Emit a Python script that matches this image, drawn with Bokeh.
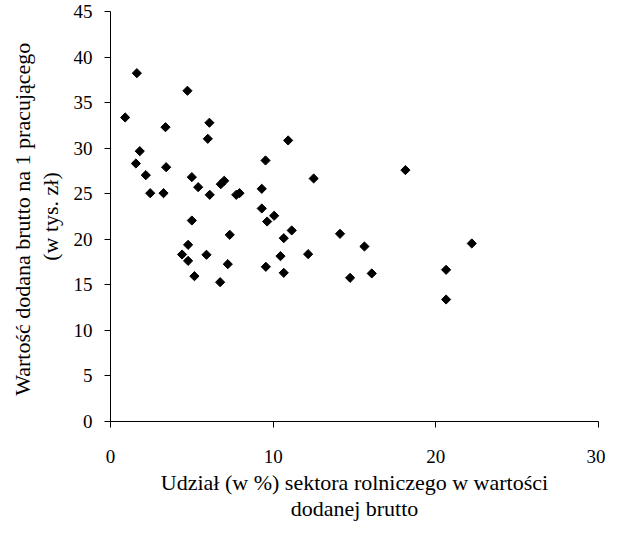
import numpy as np
from bokeh.plotting import figure
from bokeh.models import Range1d, FixedTicker
from bokeh.embed import file_html
from bokeh.resources import INLINE

# Udział (w %) sektora rolniczego w wartości dodanej brutto
share_pct = [1.62, 4.73, 0.90, 3.38, 6.08, 5.98, 10.92, 1.80, 1.56, 3.42,
             9.53, 2.17, 5.00, 5.39, 6.78, 6.99, 2.44, 3.26, 6.10, 7.73,
             7.93, 9.30, 9.30, 10.06, 5.00, 9.63,
             7.33, 4.77, 4.40, 4.77, 5.90, 5.16, 7.21, 6.74, 10.65, 11.14,
             10.45, 9.55, 10.65,
             12.49, 18.13, 12.15, 14.11, 15.61, 14.73, 16.06, 22.21, 20.63, 20.63]
# Wartość dodana brutto na 1 pracującego (w tys. zł)
gva_per_worker = [38.23, 36.30, 33.37, 32.30, 32.79, 31.03, 30.85, 29.67, 28.32, 27.91,
                  28.65, 27.04, 26.82, 25.72, 26.05, 26.42, 25.06, 25.06, 24.88, 24.88,
                  25.06, 25.54, 23.38, 22.58, 22.06, 21.95,
                  20.49, 19.39, 18.33, 17.63, 18.30, 15.95, 17.27, 15.29, 20.12, 20.97,
                  18.15, 16.98, 16.32,
                  26.67, 27.59, 18.37, 20.60, 19.21, 15.77, 16.25, 19.54, 16.65, 13.39]

x_ticks = [0, 10, 20, 30]
y_ticks = [0, 5, 10, 15, 20, 25, 30, 35, 40, 45]

FONT = "Liberation Serif"

p = figure(width=605, height=523, output_backend="svg", toolbar_location=None,
           x_range=Range1d(0, 30), y_range=Range1d(0, 45),
           min_border_left=110, min_border_right=7, min_border_top=11, min_border_bottom=102)
p.outline_line_color = None
p.xgrid.visible = False
p.ygrid.visible = False
p.background_fill_color = "white"
p.border_fill_color = "white"

p.scatter(share_pct, gva_per_worker, marker="square", angle=np.pi / 4, size=6.5,
          fill_color="black", line_color="black")

for ax, ticks in ((p.xaxis[0], x_ticks), (p.yaxis[0], y_ticks)):
    ax.ticker = FixedTicker(ticks=ticks)
    ax.minor_tick_line_color = None
    ax.major_tick_in = 0
    ax.major_tick_out = 6
    ax.axis_line_color = "black"
    ax.major_tick_line_color = "black"
    ax.major_label_text_font = FONT
    ax.major_label_text_font_size = "19px"
    ax.major_label_text_color = "black"
    ax.axis_label_text_font = FONT
    ax.axis_label_text_font_size = "22px"
    ax.axis_label_text_font_style = "normal"
    ax.axis_label_text_color = "black"

p.xaxis.axis_label_text_line_height = 1.05
p.yaxis.axis_label_text_line_height = 1.1
p.xaxis.axis_label = "Udział (w %) sektora rolniczego w wartości\ndodanej brutto"
p.yaxis.axis_label = "Wartość dodana brutto  na 1 pracującego\n(w tys. zł)"
p.xaxis.major_label_standoff = 22
p.yaxis.major_label_standoff = 12
p.xaxis.axis_label_standoff = 4
p.yaxis.axis_label_standoff = 8

open("out.html", "w").write(file_html(p, INLINE))
